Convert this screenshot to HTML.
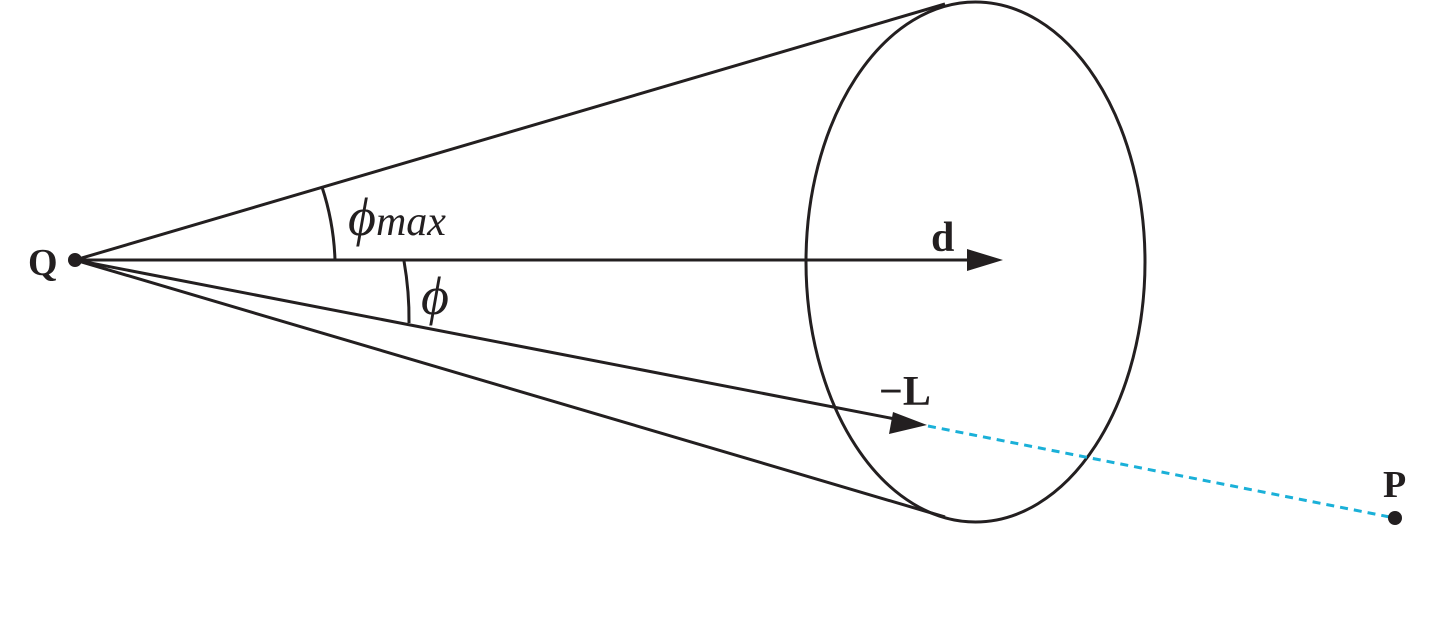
<!DOCTYPE html>
<html><head><style>body{margin:0;background:#fff}svg{display:block}</style></head>
<body>
<svg width="1437" height="633" viewBox="0 0 1437 633" xmlns="http://www.w3.org/2000/svg">
<g stroke="#231f20" stroke-width="3" fill="none">
<ellipse cx="975.5" cy="262" rx="169.5" ry="260"/>
<line x1="75" y1="260" x2="945" y2="4"/>
<line x1="75" y1="260" x2="945" y2="517"/>
<line x1="75" y1="260" x2="970" y2="260"/>
<line x1="75" y1="260" x2="895" y2="419"/>
<path d="M322,187 A260,260 0 0 1 335,260"/>
<path d="M404,261 A330,330 0 0 1 409,323"/>
</g>
<polygon points="1003,260 967,249 967,271" fill="#231f20"/>
<polygon points="927,425 893,412 889,434" fill="#231f20"/>
<line x1="928" y1="426" x2="1395" y2="518" stroke="#1ab0d8" stroke-width="3" stroke-dasharray="8,6"/>
<circle cx="75" cy="260" r="7" fill="#231f20"/>
<circle cx="1395" cy="518" r="7" fill="#231f20"/>
<g font-family="Liberation Serif, serif" fill="#231f20">
<text x="28" y="275" font-size="38" font-weight="bold">Q</text>
<text x="1383" y="497" font-size="38" font-weight="bold">P</text>
<text x="931" y="251" font-size="42" font-weight="bold">d</text>
<text x="879" y="405" font-size="42" font-weight="bold">−L</text>
<text x="348" y="235" font-size="54" font-style="italic">ϕ<tspan font-size="42">max</tspan></text>
<text x="421" y="314" font-size="54" font-style="italic">ϕ</text>
</g>
</svg>
</body></html>
